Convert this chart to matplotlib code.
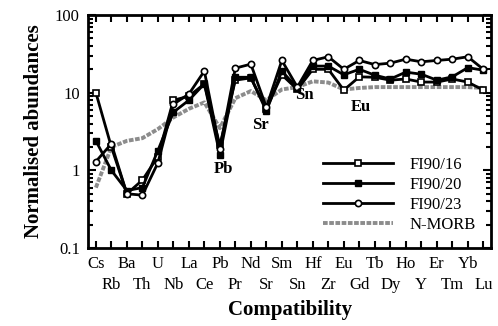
import matplotlib.pyplot as plt

# trace elements, ordered by compatibility
elements = ["Cs", "Rb", "Ba", "Th", "U", "Nb", "La", "Ce", "Pb", "Pr", "Nd", "Sr", "Sm",
            "Sn", "Hf", "Zr", "Eu", "Gd", "Tb", "Dy", "Ho", "Y", "Er", "Tm", "Yb", "Lu"]

fi90_16 = [10, 2.0, 0.5, 0.75, 1.5, 8.0, 9.0, 13, 2.1, 14.5, 15.5, 6.2, 17,
           11, 20, 20, 10.8, 16, 15.8, 14.5, 15, 13.7, 13.7, 15, 13.7, 10.8]
fi90_20 = [2.4, 1.0, 0.55, 0.6, 1.8, 5.6, 8.0, 13, 1.6, 15.8, 15.8, 5.8, 19,
           11.5, 22, 22, 17, 20, 16.8, 15, 18.4, 17.3, 14.5, 16, 21, 19.5]
fi90_23 = [1.3, 2.2, 0.5, 0.48, 1.25, 7.1, 9.6, 19, 1.9, 20.7, 23.3, 6.5, 26,
           11.8, 26, 29, 20, 26, 23, 24, 27, 25, 26, 27, 29, 20]
n_morb = [0.6, 2.0, 2.4, 2.6, 3.4, 4.8, 6.2, 7.5, 3.5, 8.5, 10.5, 8, 11,
          11.8, 14, 13.5, 11, 11.5, 11.8, 11.8, 11.8, 11.8, 11.8, 11.8, 11.8, 11.5]

plt.rcParams["font.family"] = "Liberation Serif"

fig = plt.figure(figsize=(4.98, 3.26), dpi=100)
ax = fig.add_axes([0.177, 0.239, 0.809, 0.715])

x = list(range(len(elements)))
ax.plot(x, n_morb, color="0.55", lw=2.8, ls=(0, (1.2, 0.4)), label="N-MORB", zorder=1)
ax.plot(x, fi90_16, color="black", lw=2, marker="s", ms=5, mfc="white", mec="black",
        mew=1.2, label="FI90/16", zorder=3)
ax.plot(x, fi90_20, color="black", lw=2, marker="s", ms=5, mfc="black", mec="black",
        label="FI90/20", zorder=3)
ax.plot(x, fi90_23, color="black", lw=2, marker="o", ms=4.5, mfc="white", mec="black",
        mew=1.2, label="FI90/23", zorder=3)

ax.set_yscale("log")
ax.set_ylim(0.1, 100)
ax.set_xlim(-0.5, len(elements) - 0.5)

# staggered tick labels: even positions as major ticks, odd as minor (lower row)
ax.set_xticks(x[0::2], elements[0::2], fontsize=12)
ax.set_xticks(x[1::2], elements[1::2], minor=True, fontsize=12)
ax.set_yticks([0.1, 1, 10, 100])
ax.set_yticklabels(["0.1", "1", "10", "100"], fontsize=12)

ax.tick_params(axis="both", which="both", direction="in", top=True, right=True, width=1.5)
ax.tick_params(axis="x", which="major", length=5, pad=6)
ax.tick_params(axis="x", which="minor", length=5, pad=21)
ax.tick_params(axis="y", which="major", length=6, pad=6)
ax.tick_params(axis="y", which="minor", length=3.5)
for s in ax.spines.values():
    s.set_linewidth(2)

ax.set_ylabel("Normalised abundances", fontsize=15, fontweight="bold", labelpad=8)
ax.set_xlabel("Compatibility", fontsize=15, fontweight="bold", labelpad=5)

# anomaly labels
for name, xi, yv in [("Pb", 8.2, 1.05), ("Sr", 10.6, 3.8), ("Sn", 13.45, 9.3), ("Eu", 17.1, 6.5)]:
    ax.text(xi, yv, name, ha="center", va="center", fontsize=12, fontweight="bold")

h, l = ax.get_legend_handles_labels()
order = [1, 2, 3, 0]
ax.legend([h[i] for i in order], [l[i] for i in order], loc="lower right",
          bbox_to_anchor=(1.0, 0.0), frameon=False, fontsize=12, handlelength=4.2,
          labelspacing=0.25, handletextpad=1.0)

fig.savefig("out.png", dpi=100)
